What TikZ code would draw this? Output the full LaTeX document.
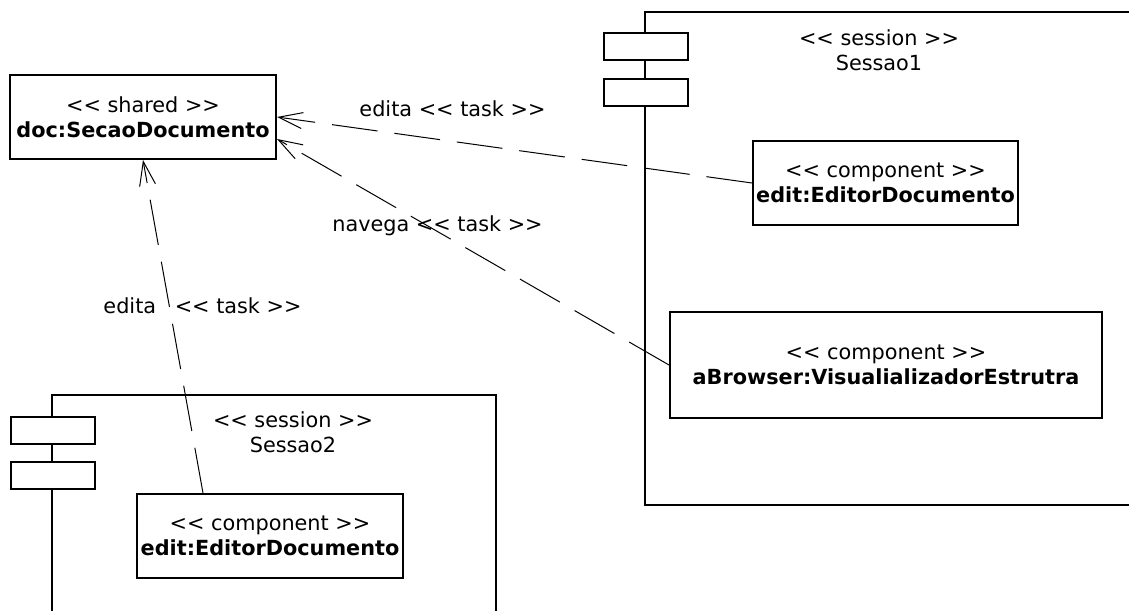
\documentclass[tikz,border=0pt]{standalone}
\usepackage{fontspec}
\setmainfont{DejaVu Sans}[Ligatures=TeXOff]
\usetikzlibrary{arrows.meta, calc}

\tikzset{
    box/.style = {draw, line width = 1pt, fill = white, align = center, inner sep = 0pt,
        minimum width = 133pt, minimum height = 42pt, font = \fontsize{10.4}{12.5}\selectfont},
    tab/.style = {draw, line width = 1pt, fill = white, inner sep = 0pt,
        minimum width = 42pt, minimum height = 13.5pt},
    frame/.style = {line width = 1pt},
    dep/.style = {line width = 0.5pt, dash pattern = on 23pt off 8.5pt,
        -{Straight Barb[length = 12pt, width = 8pt]}},
    lbl/.style = {font = \fontsize{10.4}{12.5}\selectfont, align = center, inner sep = 0pt}
}

\begin{document}
\begin{tikzpicture}[x = 0.5pt, y = -0.5pt]
    \useasboundingbox (0, 0) rectangle (1129, 610);
    \clip (0, 0) rectangle (1129, 610);

    % session frames
    \draw[frame] (645, 12) rectangle (1160, 505);
    \draw[frame] (52, 395) rectangle (496, 640);
    \node[tab] (tab1a) at (645.5, 47) {};
    \node[tab] (tab1b) at (645.5, 92.5) {};
    \node[tab] (tab2a) at (52.5, 430) {};
    \node[tab] (tab2b) at (52.5, 475.5) {};
    \node[lbl, anchor = south] (sess1) at (879, 71) {<< session >>\\Sessao1};
    \node[lbl, anchor = south] (sess2) at (293, 453) {<< session >>\\Sessao2};

    % objects
    \node[box] (shared) at (143, 117) {<< shared >>\\\textbf{doc:SecaoDocumento}};
    \node[box, minimum width = 132.5pt] (edit1) at (885.5, 183) {<< component >>\\\textbf{edit:EditorDocumento}};
    \node[box, minimum width = 216pt, minimum height = 53pt] (browser) at (886, 365) {<< component >>\\\textbf{aBrowser:VisualializadorEstrutra}};
    \node[box] (edit2) at (270, 536) {<< component >>\\\textbf{edit:EditorDocumento}};

    % dependencies
    \draw[dep] (edit1.west) -- (shared.east);
    \draw[dep] (browser.west) -- ($(shared.east) + (0, 22)$);
    \draw[dep] ($(edit2.north west)!0.25!(edit2.north east)$) -- (shared.south);

    \node[lbl, anchor = base] (lbl1) at (452.5, 117) {edita << task >>};
    \node[lbl, anchor = base] (lbl2) at (437.5, 231) {navega << task >>};
    \node[lbl, anchor = base] (lbl3) at (202.5, 313) {edita\hspace{6pt} << task >>};
\end{tikzpicture}
\end{document}
